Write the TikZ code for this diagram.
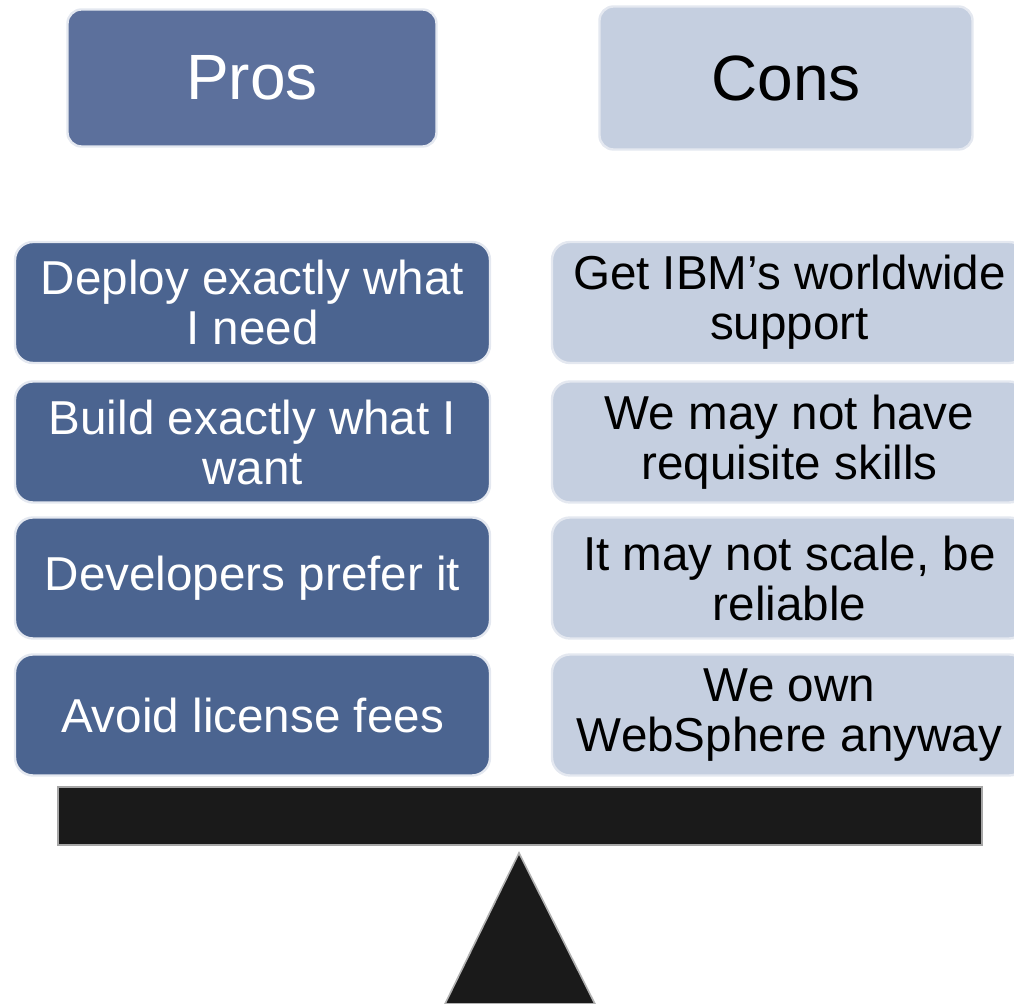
\documentclass[tikz,border=0pt]{standalone}
\usepackage{fontspec}
\setmainfont{Liberation Sans}
\usepackage{tikz}
\definecolor{ProHead}{RGB}{92,112,156}
\definecolor{ProFill}{RGB}{75,100,144}
\definecolor{ConFill}{RGB}{197,207,224}
\definecolor{BoxRim}{RGB}{228,232,240}
\definecolor{Beam}{RGB}{26,26,26}
\tikzstyle{HeadBox}=[rectangle,rounded corners=7pt,draw=BoxRim,line width=1.2pt,
minimum width=185pt,minimum height=70pt,font=\fontsize{32}{36}\selectfont]
\tikzstyle{ItemBox}=[rectangle,rounded corners=9pt,draw=BoxRim,line width=1.2pt,
minimum width=237.5pt,minimum height=60.5pt,align=center,inner sep=2pt,
font=\fontsize{23.8}{25}\selectfont]
\tikzstyle{ProStyle}=[fill=ProFill,text=white]
\tikzstyle{ConStyle}=[fill=ConFill,text=black]

\begin{document}
\begin{tikzpicture}[x=0.5pt,y=-0.5pt]
        \useasboundingbox (0,0) rectangle (1014,1004);
        % headers
        \node[HeadBox,fill=ProHead,text=white,minimum width=184.5pt,minimum height=68.5pt](pros)at(252,78){Pros};
        \node[HeadBox,ConStyle,minimum width=186.5pt,minimum height=71.5pt](cons)at(786,78){Cons};
        % pros column
        \node[ItemBox,ProStyle](p1)at(252.5,302.5){Deploy exactly what\\I need};
        \node[ItemBox,ProStyle](p2)at(252.5,442){Build exactly what I\\want};
        \node[ItemBox,ProStyle](p3)at(252.5,578){Developers prefer it};
        \node[ItemBox,ProStyle](p4)at(252.5,715){Avoid license fees};
        % cons column
        \node[ItemBox,ConStyle](c1)at(789.5,302.5){Get IBM’s worldwide\\support};
        \node[ItemBox,ConStyle](c2)at(789.5,442){We may not have\\requisite skills};
        \node[ItemBox,ConStyle](c3)at(789.5,578){It may not scale, be\\reliable};
        \node[ItemBox,ConStyle](c4)at(789.5,715){We own\\WebSphere anyway};
        % balance
        \draw[fill=Beam,draw=black!35,line width=1pt](58,787)rectangle(982,845);
        \draw[fill=Beam,draw=black!30,line width=0.8pt](519,853)--(445,1004)--(595,1004)--cycle;
    \end{tikzpicture}
\end{document}
